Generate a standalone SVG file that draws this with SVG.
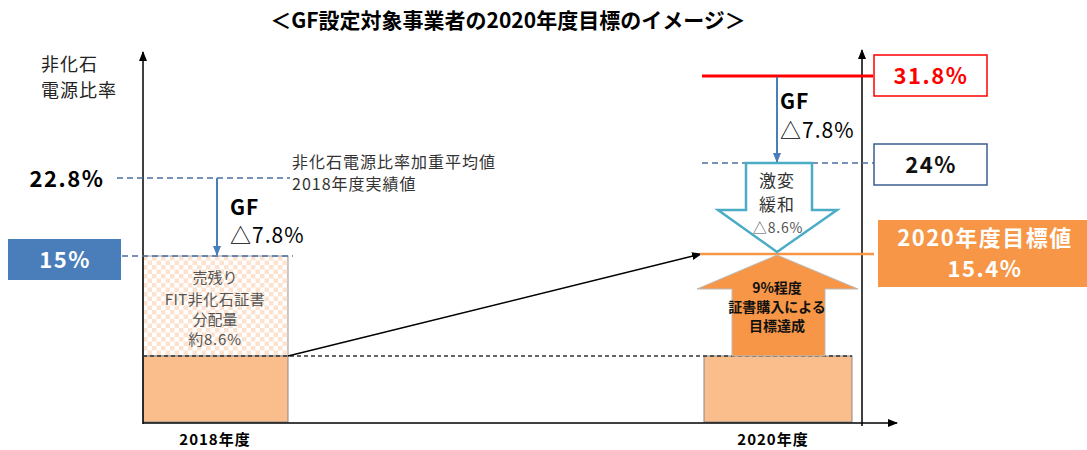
<svg xmlns="http://www.w3.org/2000/svg" width="1087" height="450" viewBox="0 0 1087 450">
<defs>
<style>
text{font-family:"Noto Sans CJK JP","Noto Sans",sans-serif;}
.b{font-weight:bold;}
.c{text-anchor:middle;}
.ax{stroke:#000;stroke-width:1.5;fill:none;}
.dashb{stroke:#4a6fa5;stroke-width:1.3;stroke-dasharray:6,4;fill:none;}
.dashk{stroke:#333;stroke-width:1.3;stroke-dasharray:4,3;fill:none;}
.blue{stroke:#4a7ebb;stroke-width:2;fill:none;}
.val{font-weight:bold;font-size:22px;letter-spacing:1.5px;text-anchor:middle;}
.gf{font-size:21px;letter-spacing:1px;}
</style>
<pattern id="chk" width="9" height="9" patternUnits="userSpaceOnUse" x="143" y="256">
<rect width="9" height="9" fill="#fff"/>
<rect width="4.5" height="4.5" fill="#fde3cf"/>
<rect x="4.5" y="4.5" width="4.5" height="4.5" fill="#fde3cf"/>
</pattern>
<marker id="ak" markerWidth="10" markerHeight="10" refX="9" refY="5" orient="auto" markerUnits="userSpaceOnUse">
<path d="M0,1 L10,5 L0,9 Z" fill="#000"/>
</marker>
<marker id="ab" markerWidth="10" markerHeight="10" refX="9" refY="5" orient="auto" markerUnits="userSpaceOnUse">
<path d="M0,1 L10,5 L0,9 Z" fill="#4a7ebb"/>
</marker>
</defs>
<rect width="1087" height="450" fill="#fff"/>

<g id="title">
<text x="508" y="28" class="b c" font-size="21">＜GF設定対象事業者の2020年度目標のイメージ＞</text>
</g>

<g id="ylabel">
<text x="41" y="71" font-size="18" letter-spacing="1" fill="#222">非化石</text>
<text x="41" y="97" font-size="18" letter-spacing="1" fill="#222">電源比率</text>
</g>

<g id="bar2018">
<rect x="143" y="256" width="145" height="100" fill="url(#chk)" stroke="#999" stroke-width="1"/>
<rect x="143" y="356" width="145" height="66" fill="#f9be8c" stroke="#888" stroke-width="1"/>
<text x="215" y="283" class="c" font-size="15" fill="#555">売残り</text>
<text x="215" y="305" class="c" font-size="15" letter-spacing="0.5" fill="#555">FIT非化石証書</text>
<text x="215" y="325" class="c" font-size="15" fill="#555">分配量</text>
<text x="215" y="345" class="c" font-size="15" letter-spacing="0.8" fill="#555">約8.6%</text>
</g>

<g id="bar2020">
<rect x="704" y="356" width="148" height="66" fill="#f9be8c" stroke="#888" stroke-width="1"/>
</g>

<g id="connectors">
<line x1="143" y1="424" x2="143" y2="52" class="ax" marker-end="url(#ak)"/>
<line x1="143" y1="423" x2="897" y2="423" class="ax" marker-end="url(#ak)"/>
<line x1="862" y1="426" x2="862" y2="50" class="ax" marker-end="url(#ak)"/>
<line x1="117" y1="178" x2="290" y2="178" class="dashb"/>
<line x1="122" y1="256" x2="293" y2="256" class="dashb"/>
<line x1="143" y1="356" x2="852" y2="356" class="dashk"/>
<line x1="217" y1="178" x2="217" y2="255" class="blue" marker-end="url(#ab)"/>
<line x1="288" y1="356" x2="701" y2="254" stroke="#000" stroke-width="1.5" marker-end="url(#ak)"/>
<line x1="702" y1="76" x2="873" y2="76" stroke="#ff0000" stroke-width="3"/>
<line x1="702" y1="163" x2="874" y2="163" class="dashb"/>
<line x1="777" y1="77" x2="777" y2="162" class="blue" marker-end="url(#ab)"/>
<line x1="700" y1="254" x2="874" y2="254" stroke="#f79646" stroke-width="2.5"/>
</g>

<g id="val228">
<text x="67" y="187" class="val">22.8%</text>
</g>
<g id="box15">
<rect x="8" y="239" width="113" height="41" fill="#4a7ebb"/>
<text x="65" y="268" class="val" fill="#fff">15%</text>
</g>
<g id="note2018">
<text x="292" y="168" font-size="16" letter-spacing="1" fill="#333">非化石電源比率加重平均値</text>
<text x="292" y="190" font-size="16" letter-spacing="1" fill="#333">2018年度実績値</text>
</g>
<g id="gf2018">
<text x="230" y="215" class="b gf">GF</text>
<text x="230" y="243" class="gf">△7.8%</text>
</g>

<g id="box318">
<rect x="874" y="55" width="113" height="41" fill="#fff" stroke="#ff0000" stroke-width="1.5"/>
<text x="931" y="84" class="val" fill="#ff0000">31.8%</text>
</g>
<g id="box24">
<rect x="874" y="144" width="113" height="41" fill="#fff" stroke="#3b5f8f" stroke-width="1.5"/>
<text x="931" y="173" class="val" fill="#111">24%</text>
</g>
<g id="gf2020">
<text x="780" y="109" class="b gf">GF</text>
<text x="780" y="138" class="gf">△7.8%</text>
</g>

<g id="downarrow">
<path d="M746,163 L812,163 L812,210 L837,210 L777,252 L718,210 L746,210 Z" fill="#fff" stroke="#4bacc6" stroke-width="2.5"/>
<text x="777" y="187" class="c" font-size="17" letter-spacing="1" fill="#333">激変</text>
<text x="777" y="211" class="c" font-size="17" letter-spacing="1" fill="#333">緩和</text>
<text x="778" y="233" class="c" font-size="14" letter-spacing="0.8" fill="#555">△8.6%</text>
</g>

<g id="uparrow">
<path d="M777,255 L858,289 L825,289 L825,356 L732,356 L732,289 L697,289 Z" fill="#f79646" stroke="#bbb" stroke-width="1"/>
<text x="777" y="293" class="b c" font-size="14" fill="#111">9%程度</text>
<text x="777" y="312" class="b c" font-size="14" fill="#111">証書購入による</text>
<text x="777" y="331" class="b c" font-size="14" fill="#111">目標達成</text>
</g>

<g id="box2020target">
<rect x="878" y="220" width="209" height="67" fill="#f79646"/>
<text x="985" y="246" class="val" fill="#fff">2020年度目標値</text>
<text x="985" y="277" class="val" fill="#fff">15.4%</text>
</g>

<g id="xlabels">
<text x="215" y="445" class="b c" font-size="15" letter-spacing="1">2018年度</text>
<text x="773" y="445" class="b c" font-size="15" letter-spacing="1">2020年度</text>
</g>
</svg>
